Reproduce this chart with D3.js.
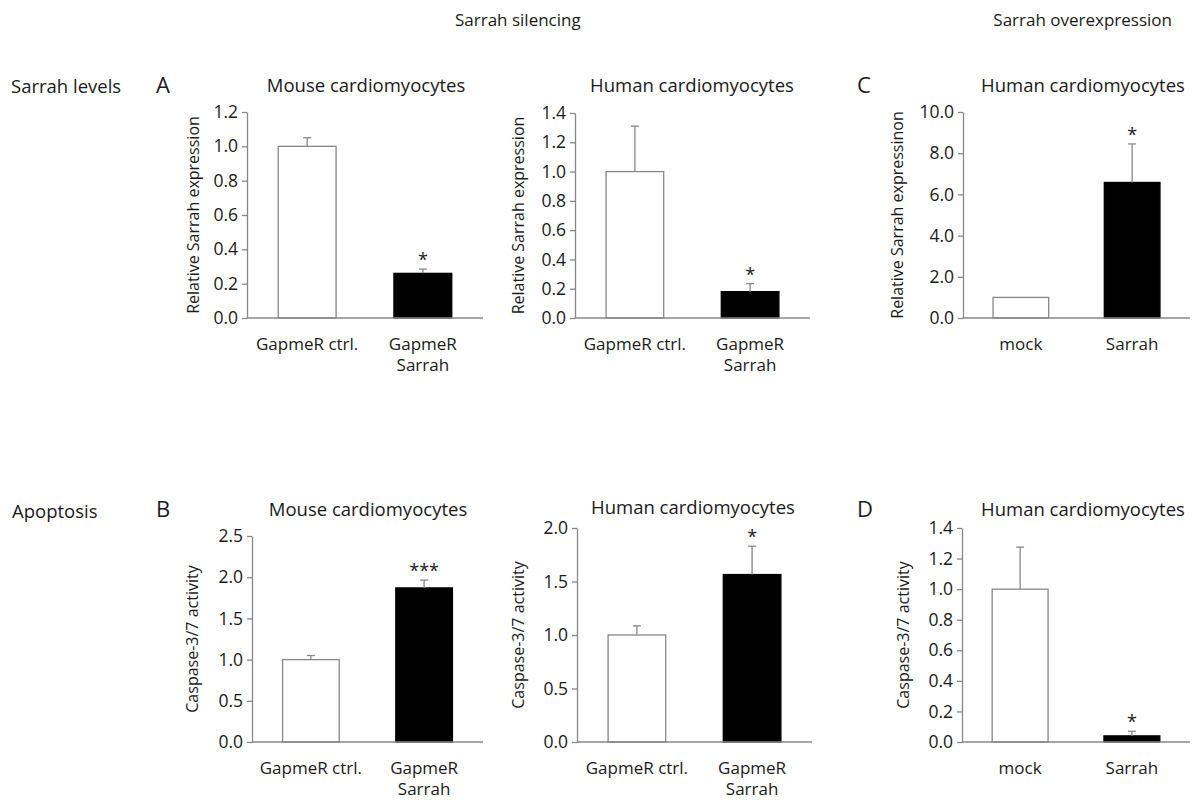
<!DOCTYPE html>
<html>
<head>
<meta charset="utf-8">
<script src="https://cdn.jsdelivr.net/npm/d3@7"></script>
<style>
  body { margin: 0; background: #fff; }
  svg text { font-family: "Open Sans", Lato, sans-serif; fill: #1a1a1a; }
</style>
</head>
<body>
<svg id="svg" width="1198" height="800"></svg>
<script>
// Categories
const catsSilence = ["GapmeR ctrl.", "GapmeR|Sarrah"];
const catsOver = ["mock", "Sarrah"];

// Sarrah levels (means, SEM)
const levelMouse = [1.0, 0.26];
const levelMouseErr = [0.05, 0.025];
const levelHuman = [1.0, 0.18];
const levelHumanErr = [0.31, 0.055];
const levelOver = [1.0, 6.58];
const levelOverErr = [0, 1.87];

// Apoptosis
const apoMouse = [1.0, 1.87];
const apoMouseErr = [0.05, 0.095];
const apoHuman = [1.0, 1.565];
const apoHumanErr = [0.085, 0.265];
const apoOver = [1.0, 0.04];
const apoOverErr = [0.275, 0.03];

// significance marks
const starsA = ["", "*"];
const starsB = ["", "***"];

const svg = d3.select("svg#svg");
const axisColor = "#878787";

// panel layout
const panels = [
  { x0: 247, x1: 483, top: 112, bottom: 318, max: 1.2, step: 0.2, cats: catsSilence, vals: levelMouse, errs: levelMouseErr, stars: starsA,
    title: "Mouse cardiomyocytes", tx: 366, ty: 92, ylab: "Relative Sarrah expression", yoff: 54, letter: "A", lx: 156 },
  { x0: 575, x1: 810, top: 113, bottom: 318, max: 1.4, step: 0.2, cats: catsSilence, vals: levelHuman, errs: levelHumanErr, stars: starsA,
    title: "Human cardiomyocytes", tx: 692, ty: 92, ylab: "Relative Sarrah expression", yoff: 57 },
  { x0: 963, x1: 1190, top: 112, bottom: 318, max: 10, step: 2, cats: catsOver, vals: levelOver, errs: levelOverErr, stars: starsA,
    title: "Human cardiomyocytes", tx: 1083, ty: 92, ylab: "Relative Sarrah expressinon", yoff: 66, letter: "C", lx: 857 },
  { x0: 252, x1: 483, top: 536, bottom: 742, max: 2.5, step: 0.5, cats: catsSilence, vals: apoMouse, errs: apoMouseErr, stars: starsB,
    title: "Mouse cardiomyocytes", tx: 368, ty: 516, ylab: "Caspase-3/7 activity", yoff: 60, letter: "B", lx: 156 },
  { x0: 577, x1: 812, top: 528, bottom: 742, max: 2.0, step: 0.5, cats: catsSilence, vals: apoHuman, errs: apoHumanErr, stars: starsA,
    title: "Human cardiomyocytes", tx: 693, ty: 514, ylab: "Caspase-3/7 activity", yoff: 59 },
  { x0: 962, x1: 1190, top: 528, bottom: 742, max: 1.4, step: 0.2, cats: catsOver, vals: apoOver, errs: apoOverErr, stars: starsA,
    title: "Human cardiomyocytes", tx: 1083, ty: 516, ylab: "Caspase-3/7 activity", yoff: 59, letter: "D", lx: 857 }
];

// headers
svg.append("text").attr("x", 455).attr("y", 26).style("font-size", "17px").text("Sarrah silencing");
svg.append("text").attr("x", 1172).attr("y", 26).attr("text-anchor", "end")
  .style("font-size", "17px").text("Sarrah overexpression");
svg.append("text").attr("x", 11).attr("y", 93).style("font-size", "18.5px").text("Sarrah levels");
svg.append("text").attr("x", 12).attr("y", 518).style("font-size", "18.5px").text("Apoptosis");

var drawPanel = function(p) {
  let g = svg.append("g");

  let x = d3.scaleBand().domain(p.cats).range([p.x0, p.x1])
    .paddingInner(0.5).paddingOuter(0.27);
  let y = d3.scaleLinear().domain([0, p.max]).range([p.bottom, p.top]);
  let ticks = d3.range(0, p.max + p.step / 2, p.step);

  // y axis
  let yAxis = g.append("g")
    .attr("transform", "translate(" + p.x0 + ",0)")
    .call(d3.axisLeft(y).tickValues(ticks).tickFormat(d3.format(".1f")).tickSize(5).tickSizeOuter(0));
  yAxis.select(".domain").attr("stroke", axisColor).attr("stroke-width", 1.3);
  yAxis.selectAll(".tick line").attr("stroke", axisColor).attr("stroke-width", 1.3);
  yAxis.selectAll(".tick text").attr("x", -9).style("font-size", "17.5px")
    .style("font-family", "'Open Sans', sans-serif").attr("fill", "#1a1a1a");

  // bars
  g.selectAll("rect.bar").data(p.vals).enter().append("rect")
    .attr("x", (d, i) => x(p.cats[i]))
    .attr("y", d => y(d))
    .attr("width", x.bandwidth())
    .attr("height", d => y(0) - y(d))
    .attr("fill", (d, i) => i == 0 ? "#fff" : "#000")
    .attr("stroke", (d, i) => i == 0 ? axisColor : "#000")
    .attr("stroke-width", 1.3);

  // error bars
  p.vals.forEach(function(v, i) {
    if (!p.errs[i]) return;
    let cx = x(p.cats[i]) + x.bandwidth() / 2;
    g.append("line").attr("x1", cx).attr("x2", cx)
      .attr("y1", y(v)).attr("y2", y(v + p.errs[i]))
      .attr("stroke", axisColor).attr("stroke-width", 1.3);
    g.append("line").attr("x1", cx - 4).attr("x2", cx + 4)
      .attr("y1", y(v + p.errs[i])).attr("y2", y(v + p.errs[i]))
      .attr("stroke", axisColor).attr("stroke-width", 1.3);
    if (p.stars[i]) {
      g.append("text").attr("x", cx).attr("y", y(v + p.errs[i]) - 3)
        .attr("text-anchor", "middle").style("font-size", "18px")
        .text(p.stars[i]);
    }
  });

  // x axis line
  g.append("line").attr("x1", p.x0).attr("x2", p.x1)
    .attr("y1", y(0)).attr("y2", y(0))
    .attr("stroke", axisColor).attr("stroke-width", 1.3);

  // category labels
  p.cats.forEach(function(c) {
    let cx = x(c) + x.bandwidth() / 2;
    let t = g.append("text").attr("text-anchor", "middle").style("font-size", "17px");
    c.split("|").forEach(function(line, k) {
      t.append("tspan").attr("x", cx).attr("y", p.bottom + 32 + k * 21).text(line);
    });
  });

  // title
  g.append("text").attr("x", p.tx).attr("y", p.ty)
    .attr("text-anchor", "middle").style("font-size", "18.5px").text(p.title);

  // y label
  g.append("text")
    .attr("transform", "translate(" + (p.x0 - p.yoff) + "," + ((p.top + p.bottom) / 2) + ") rotate(-90)")
    .attr("text-anchor", "middle").attr("dy", "0.35em").style("font-size", "16px").text(p.ylab);

  if (p.letter) {
    g.append("text").attr("x", p.lx).attr("y", p.ty + 1)
      .style("font-size", "22px").text(p.letter);
  }
}

panels.forEach(drawPanel);
</script>
</body>
</html>
